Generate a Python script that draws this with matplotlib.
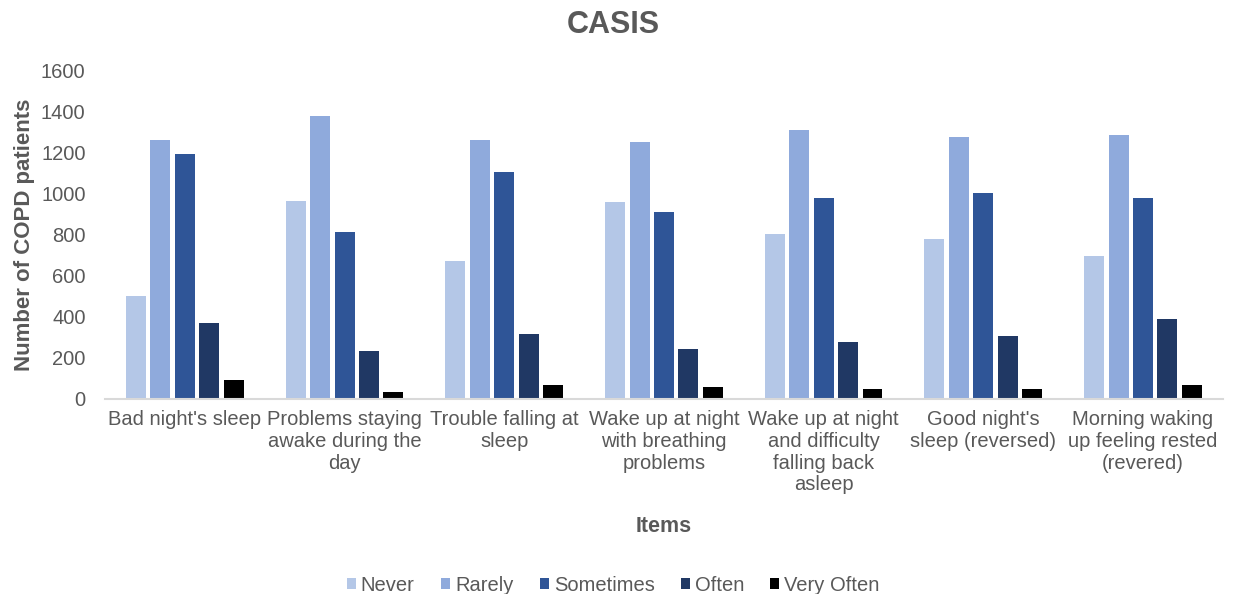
import numpy as np
import matplotlib
matplotlib.use("Agg")
import matplotlib.pyplot as plt

plt.rcParams['font.family'] = ['Liberation Sans', 'DejaVu Sans']

items = ["Bad night's sleep",
         "Problems staying\nawake during the\nday",
         "Trouble falling at\nsleep",
         "Wake up at night\nwith breathing\nproblems",
         "Wake up at night\nand difficulty\nfalling back\nasleep",
         "Good night's\nsleep (reversed)",
         "Morning waking\nup feeling rested\n(revered)"]

answers = ['Never', 'Rarely', 'Sometimes', 'Often', 'Very Often']
never = [500, 965, 673, 963, 806, 780, 697]
rarely = [1265, 1380, 1263, 1255, 1311, 1279, 1287]
sometimes = [1197, 815, 1106, 914, 981, 1005, 981]
often = [373, 233, 316, 242, 276, 308, 392]
very_often = [91, 34, 66, 58, 50, 50, 66]

counts = [never, rarely, sometimes, often, very_often]
colors = ['#b4c7e7', '#8faadc', '#2f5597', '#203864', '#000000']
grey = '#595959'

fig = plt.figure(figsize=(12.34, 5.94), dpi=100)
ax = fig.add_axes([0.0851, 0.3283, 0.9059, 0.5522])

x = np.arange(len(items))
step = 0.153
width = 0.125
for i, (name, vals, col) in enumerate(zip(answers, counts, colors)):
    ax.bar(x + (i - 2) * step, vals, width=width, color=col, label=name)

ax.set_xlim(-0.5, len(items) - 0.5)
ax.set_ylim(0, 1600)
ax.set_yticks(range(0, 1601, 200))
ax.set_xticks(x)
ax.set_xticklabels(items, linespacing=1.18)

for side in ['top', 'right', 'left']:
    ax.spines[side].set_visible(False)
ax.spines['bottom'].set_color('#d9d9d9')
ax.spines['bottom'].set_linewidth(1.5)

ax.tick_params(axis='y', length=0, pad=14, labelsize=14.5, labelcolor=grey)
ax.tick_params(axis='x', length=0, pad=8, labelsize=14.5, labelcolor=grey)

ax.set_ylabel('Number of COPD patients', fontsize=16, fontweight='bold',
              color=grey, labelpad=4)
fig.text(0.538, 0.113, 'Items', fontsize=15.5, fontweight='bold',
         color=grey, ha='center', va='center')
fig.text(0.497, 0.958, 'CASIS', fontsize=22, fontweight='bold',
         color=grey, ha='center', va='center')

fig.legend(loc='lower center', bbox_to_anchor=(0.497, -0.032), ncol=5,
           frameon=False, fontsize=14.5, handlelength=0.45, handleheight=0.45,
           handletextpad=0.25, columnspacing=1.3, labelcolor=grey)

fig.savefig('out.png', dpi=100)
